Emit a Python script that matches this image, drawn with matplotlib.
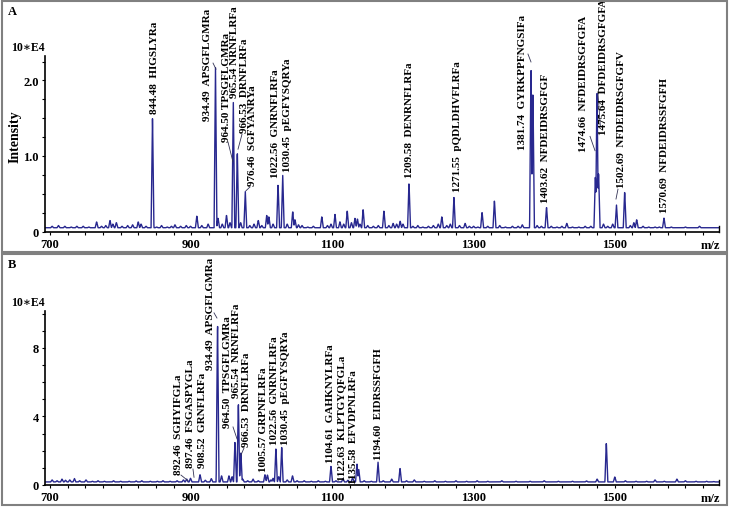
import numpy as np
import matplotlib
matplotlib.use("Agg")
import matplotlib.pyplot as plt
from matplotlib.patches import Rectangle

SERIF = ["Liberation Serif", "DejaVu Serif"]
BLUE = "#28288f"

# ---- panel A : peaks (m/z, intensity in 10^4) ----
a_major_mz = [845.2, 934.4, 959.6, 965.3, 976.6, 1023.0, 1029.6, 1208.5, 1272.2,
              1381.3, 1384.0, 1403.3, 1474.8, 1502.4, 1514.0, 1569.7]
a_major_int = [1.53, 2.17, 1.75, 1.08, 0.54, 0.64, 0.76, 0.66, 0.46,
               2.24, 1.90, 0.33, 1.92, 0.35, 0.54, 0.18]
a_minor_mz = [703, 712, 721, 730, 738, 747, 755, 766, 773, 779, 785, 789, 794, 802, 810,
              817, 825, 829, 836, 851, 858, 866, 872, 877, 885, 893, 899, 908, 915, 924,
              938, 944, 950, 955, 970, 983, 989, 995, 1000, 1007, 1010, 1016, 1036, 1043.8,
              1047, 1052, 1057, 1065, 1073, 1085, 1093, 1098, 1103.7, 1110.7, 1116, 1121,
              1127, 1132, 1135.5, 1139, 1143.5, 1150, 1158, 1165, 1173, 1180, 1186, 1191,
              1196, 1200, 1214, 1221, 1228, 1236, 1243, 1250, 1255, 1262, 1267, 1280, 1288,
              1294, 1300, 1306, 1312, 1320, 1329.5, 1337, 1345, 1355, 1363, 1369, 1390,
              1396, 1410, 1418, 1425, 1432, 1440, 1449, 1458, 1466, 1472.5, 1477, 1484, 1490,
              1497, 1522, 1527, 1531, 1540, 1548, 1557, 1563, 1580, 1590, 1600, 1608, 1620,
              1630, 1640]
a_minor_int = [0.07, 0.08, 0.07, 0.06, 0.07, 0.07, 0.06, 0.13, 0.07, 0.08, 0.15, 0.10, 0.12, 0.07, 0.08,
               0.09, 0.13, 0.10, 0.07, 0.06, 0.08, 0.06, 0.07, 0.09, 0.07, 0.08, 0.07, 0.21, 0.08, 0.10,
               0.18, 0.10, 0.22, 0.12, 0.12, 0.08, 0.10, 0.15, 0.08, 0.22, 0.20, 0.10, 0.10, 0.27,
               0.16, 0.09, 0.08, 0.06, 0.07, 0.20, 0.08, 0.10, 0.23, 0.13, 0.10, 0.28,
               0.12, 0.18, 0.17, 0.10, 0.30, 0.08, 0.07, 0.08, 0.28, 0.08, 0.11, 0.10,
               0.14, 0.10, 0.07, 0.08, 0.06, 0.07, 0.08, 0.10, 0.20, 0.08, 0.10, 0.08, 0.11,
               0.07, 0.07, 0.06, 0.26, 0.07, 0.42, 0.08, 0.06, 0.07, 0.07, 0.09, 0.08,
               0.07, 0.07, 0.06, 0.07, 0.11, 0.06, 0.06, 0.07, 0.07, 0.75, 0.80, 0.10, 0.07,
               0.10, 0.08, 0.12, 0.16, 0.07, 0.06, 0.06, 0.06, 0.06, 0.05, 0.06, 0.05, 0.07,
               0.05, 0.05]
a_base = 0.05

# ---- panel B ----
b_major_mz = [912.5, 937.3, 962.0, 966.8, 970.3, 1020.0, 1028.2, 1098.0, 1134.8, 1164.6,
              1195.8, 1488.0]
b_major_int = [0.62, 9.73, 2.60, 4.92, 1.95, 2.20, 2.24, 1.13, 1.27, 1.36,
               1.00, 2.53]
b_minor_mz = [703, 710, 717, 722, 728, 734.6, 742, 751, 760, 768, 777, 790, 800, 812, 822,
              830, 842, 852, 860, 870, 880, 889, 893.6, 899, 920, 928.5, 943, 953.5, 958,
              973, 980, 987.6, 995, 1004.5, 1008, 1013, 1016, 1024, 1036, 1043.5, 1050, 1060,
              1070, 1080, 1090, 1105, 1115, 1122, 1128.6, 1137.4, 1145, 1155, 1172, 1184,
              1205, 1216, 1230, 1245, 1260, 1275, 1290, 1305, 1320, 1340, 1360, 1380, 1400,
              1420, 1440, 1460, 1475, 1500, 1515, 1530, 1545, 1557, 1570, 1588, 1600, 1615,
              1630, 1640]
b_minor_int = [0.30, 0.25, 0.35, 0.28, 0.30, 0.38, 0.25, 0.30, 0.22, 0.25, 0.22, 0.25, 0.22, 0.22, 0.24,
               0.25, 0.22, 0.22, 0.25, 0.22, 0.25, 0.30, 0.35, 0.40, 0.28, 0.38, 0.55, 0.55, 0.50,
               0.35, 0.25, 0.35, 0.25, 0.62, 0.60, 0.30, 0.40, 0.50, 0.30, 0.55, 0.25, 0.25,
               0.22, 0.25, 0.22, 0.25, 0.38, 0.28, 0.45, 0.90, 0.25, 0.22, 0.25, 0.35,
               0.25, 0.30, 0.22, 0.25, 0.22, 0.25, 0.22, 0.25, 0.22, 0.25, 0.22, 0.22, 0.25,
               0.22, 0.22, 0.24, 0.35, 0.48, 0.25, 0.22, 0.22, 0.30, 0.22, 0.35, 0.25, 0.22,
               0.22, 0.20]
b_base = 0.18

# ---- peak annotations ----
a_labels = ["844.48  HIGSLYRa", "934.49  APSGFLGMRa", "964.50 TPSGFLGMRa", "965.54 NRNFLRFa",
            "966.53  DRNFLRFa", "976.46  SGFYANRYa", "1022.56  GNRNFLRFa", "1030.45  pEGFYSQRYa",
            "1209.58  DENRNFLRFa", "1271.55  pQDLDHVFLRFa", "1381.74  GYRKPPFNGSIFa",
            "1403.62  NFDEIDRSGFGF", "1474.66  NFDEIDRSGFGFA", "1475.64  DFDEIDRSGFGFA",
            "1502.69  NFDEIDRSGFGFV", "1570.69  NFDEIDRSSFGFH"]
b_labels = ["892.46  SGHYIFGLa", "897.46  FSGASPYGLa", "908.52  GRNFLRFa", "934.49  APSGFLGMRa",
            "964.50  TPSGFLGMRa", "965.54  NRNFLRFa", "966.53  DRNFLRFa", "1005.57 GRPNFLRFa",
            "1022.56  GNRNFLRFa", "1030.45  pEGFYSQRYa", "1104.61  GAHKNYLRFa",
            "1122.63  KLPTGYQFGLa", "1135.58  EFVDPNLRFa", "1194.60  EIDRSSFGFH"]

# label anchor (x in m/z, bottom of text in intensity units)
a_lab_pos = [(847.3, 1.57), (922.4, 1.48), (949.3, 1.20), (962.0, 1.78), (974.8, 1.32),
             (987.5, 0.62), (1020.0, 0.72), (1035.7, 0.80), (1208.5, 0.72), (1276.5, 0.54),
             (1368.6, 1.09), (1402.5, 0.39), (1455.0, 1.07), (1484.7, 1.29), (1508.8, 0.59),
             (1571.0, 0.26)]
b_lab_pos = [(881.3, 0.64), (899.7, 1.05), (915.3, 1.05), (928.0, 6.78), (952.0, 3.39),
             (964.5, 5.14), (979.0, 2.28), (1001.7, 0.82), (1017.3, 2.40), (1032.9, 2.40),
             (1096.6, 1.34), (1113.6, 0.30), (1129.2, 0.12), (1164.6, 1.52)]
a_leaders = [((930.9, 2.23), (935.1, 2.15)), ((952.1, 1.185), (959.2, 0.92)),
             ((972.0, 1.29), (966.3, 1.09)), ((983.3, 0.59), (977.6, 0.54)),
             ((1377.0, 2.35), (1381.3, 2.245)), ((1464.9, 1.26), (1472.0, 1.07)),
             ((1479.5, 1.40), (1476.0, 1.85)), ((1504.5, 0.56), (1501.7, 0.43))]
b_leaders = [((885.5, 0.58), (895.5, 0.25)), ((902.5, 0.93), (904.0, 0.45)),
             ((932.3, 10.05), (936.5, 9.75)), ((959.2, 3.39), (964.9, 2.69)),
             ((974.8, 2.16), (970.5, 1.75))]

XMIN, XMAX = 692.9, 1647.6
W, H = 733, 510


def px_rect(l, t, r, b):
    return [l / W, 1 - b / H, (r - l) / W, (b - t) / H]


def trace(major_mz, major_int, minor_mz, minor_int, base, hw=2.0):
    mz = np.arange(XMIN, XMAX, 0.25)
    y = np.full_like(mz, base)
    for m, h in zip(list(major_mz) + list(minor_mz), list(major_int) + list(minor_int)):
        tri = np.interp(mz, [m - hw, m, m + hw], [base, h, base], left=base, right=base)
        y = np.maximum(y, tri)
    return mz, y


fig = plt.figure(figsize=(7.33, 5.10), dpi=100)
for top, bot in [(2, 253), (255, 506)]:
    fig.patches.append(Rectangle((2 / W, 1 - bot / H), 725 / W, (bot - top) / H,
                                 transform=fig.transFigure, fill=False,
                                 edgecolor="#808080", lw=1.5))

axA = fig.add_axes(px_rect(45, 57, 719, 232.5))
axB = fig.add_axes(px_rect(45, 312, 719, 486))

panels = [
    (axA, trace(a_major_mz, a_major_int, a_minor_mz, a_minor_int, a_base), 2.324,
     [0, 1, 2], ["0", "1.0", "2.0"], 0.25, a_labels, a_lab_pos, a_leaders),
    (axB, trace(b_major_mz, b_major_int, b_minor_mz, b_minor_int, b_base), 10.16,
     [0, 4, 8], ["0", "4", "8"], 1.0, b_labels, b_lab_pos, b_leaders),
]

for ax, (mz, y), ymax, yt, ytl, yminor, labels, pos, leaders in panels:
    ax.plot(mz, y, color=BLUE, lw=1.0)
    ax.set_xlim(XMIN, XMAX)
    ax.set_ylim(0, ymax)
    for s in ["top", "right"]:
        ax.spines[s].set_visible(False)
    for s in ["left", "bottom"]:
        ax.spines[s].set_linewidth(1.2)
    ax.set_xticks([700, 900, 1100, 1300, 1500])
    ax.set_xticks(np.arange(700, 1650, 25), minor=True)
    ax.set_yticks(yt)
    ax.set_yticklabels(ytl)
    ax.set_yticks(np.arange(0, ymax, yminor), minor=True)
    ax.tick_params(which="both", direction="out", length=2.5, width=0.8, pad=2)
    for t in ax.get_xticklabels() + ax.get_yticklabels():
        t.set_family(SERIF)
        t.set_fontweight("bold")
        t.set_fontsize(9)
    ax.plot([1, 1], [0, 0.03], transform=ax.transAxes, color="black", lw=1, clip_on=False)
    ax.text(0.988, -0.075, "m/z", transform=ax.transAxes, ha="center", va="center",
            family=SERIF, fontweight="bold", fontsize=9)
    ax.text(-0.05, 1.05, "10\u2217E4", transform=ax.transAxes, ha="left", va="center",
            family=SERIF, fontweight="bold", fontsize=8.5)
    for lab, (lx, ly) in zip(labels, pos):
        ax.text(lx, ly, lab, rotation=90, ha="center", va="bottom", family=SERIF,
                fontweight="bold", fontsize=8, clip_on=False)
    for (x0, y0), (x1, y1) in leaders:
        ax.plot([x0, x1], [y0, y1], color="#333355", lw=0.6, clip_on=False)

fig.text(8 / W, 1 - 12 / H, "A", family=SERIF, fontweight="bold", fontsize=9, va="center")
fig.text(8 / W, 1 - 265 / H, "B", family=SERIF, fontweight="bold", fontsize=9, va="center")
fig.text(15 / W, 1 - 137 / H, "Intensity", rotation=90, family=SERIF, fontweight="bold",
         fontsize=10, ha="center", va="center")

fig.savefig("out.png", dpi=100)
